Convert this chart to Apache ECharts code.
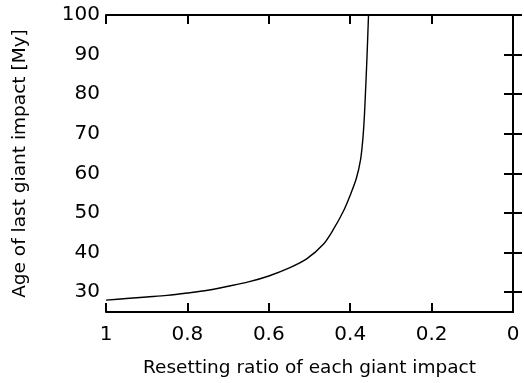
<!DOCTYPE html>
<html><head><meta charset="utf-8">
<script src="https://cdn.jsdelivr.net/npm/echarts@6/dist/echarts.min.js"></script>
<style>html,body{margin:0;padding:0;background:#fff}#c{width:524px;height:383px}</style>
</head><body><div id="c"></div>
<script>
const ratio = [1.0, 0.95, 0.9, 0.85, 0.8, 0.75, 0.7, 0.65, 0.6, 0.548, 0.507, 0.466, 0.441, 0.4165, 0.400, 0.385, 0.3745, 0.3690, 0.3656, 0.3632, 0.359, 0.355];
const age   = [28.0, 28.4, 28.8, 29.2, 29.8, 30.5, 31.5, 32.6, 34.1, 36.2, 38.4, 42.1, 45.9, 50.5, 54.5, 58.7, 63.5, 68.6, 73.6, 78.7, 88.7, 100];
const xTicks = [1, 0.8, 0.6, 0.4, 0.2, 0];
const yTicks = [30, 40, 50, 60, 70, 80, 90, 100];
const xTitle = 'Resetting ratio of each giant impact';
const yTitle = 'Age of last giant impact [My]';

const font = 'DejaVu Sans, sans-serif';
const axisLine = {show: true, lineStyle: {color: '#000', width: 2}};
const tick = {show: true, inside: true, length: 9, lineStyle: {color: '#000', width: 2}};

const chart = echarts.init(document.getElementById('c'), null, {renderer: 'canvas'});
chart.setOption({
  animation: false,
  grid: {left: 106, right: 11, top: 15, bottom: 70, containLabel: false},
  xAxis: [{
    type: 'value', inverse: true, min: 0, max: 1, interval: 0.2,
    position: 'bottom',
    axisLine: axisLine, axisTick: tick, splitLine: {show: false},
    axisLabel: {color: '#000', fontFamily: font, fontSize: 20, margin: 13,
      customValues: xTicks},
    name: xTitle, nameLocation: 'middle', nameGap: 47,
    nameTextStyle: {color: '#000', fontFamily: font, fontSize: 18.5}
  }, {
    type: 'value', inverse: true, min: 0, max: 1, interval: 0.2,
    position: 'top',
    axisLine: axisLine, axisTick: tick, splitLine: {show: false},
    axisLabel: {show: false}
  }],
  yAxis: [{
    type: 'value', min: 25, max: 100, interval: 5,
    position: 'left',
    axisLine: axisLine, splitLine: {show: false},
    axisTick: Object.assign({customValues: yTicks}, tick),
    axisLabel: {color: '#000', fontFamily: font, fontSize: 20, margin: 6,
      customValues: yTicks},
    name: yTitle, nameLocation: 'middle', nameGap: 76, nameRotate: 90,
    nameTextStyle: {color: '#000', fontFamily: font, fontSize: 18.5}
  }, {
    type: 'value', min: 25, max: 100, interval: 5,
    position: 'right',
    axisLine: axisLine, splitLine: {show: false},
    axisTick: Object.assign({customValues: yTicks}, tick),
    axisLabel: {show: false}
  }],
  series: [{
    type: 'line',
    xAxisIndex: 0, yAxisIndex: 0,
    data: ratio.map((r, i) => [r, age[i]]),
    showSymbol: false,
    smooth: 0.3,
    lineStyle: {color: '#000', width: 1.4},
    clip: true
  }]
});
</script></body></html>
